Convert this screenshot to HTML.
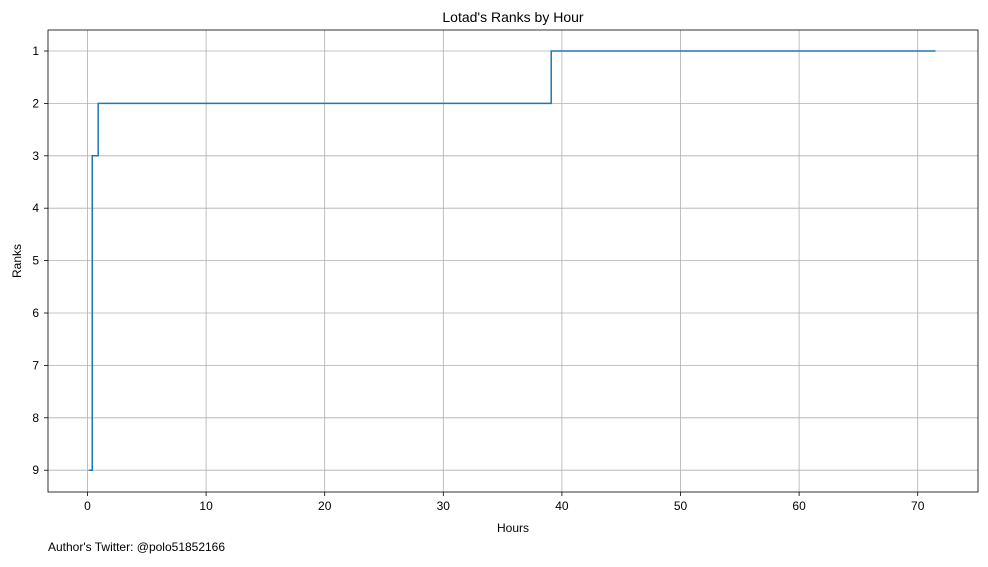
<!DOCTYPE html>
<html><head><meta charset="utf-8"><style>body{margin:0;background:#fff}svg{font-family:"Liberation Sans","DejaVu Sans",sans-serif}</style></head>
<body>
<svg id="c" width="988" height="562">
<rect x="0" y="0" width="988" height="562" fill="#fff"/>
</svg>
<script>
const hours=[0.1,0.4,0.9,39.1,71.5];
const ranks=[9,3,2,1,1];
const xTicks=[0,10,20,30,40,50,60,70];
const yTicks=[1,2,3,4,5,6,7,8,9];
const L=48,R=978,T=30,B=492;
const xs=h=>87.5+h*11.86;
const ys=r=>51+(r-1)*52.4;
const svg=document.getElementById('c');
const NS='http://www.w3.org/2000/svg';
function mk(t,a,txt){const e=document.createElementNS(NS,t);for(const k in a)e.setAttribute(k,a[k]);if(txt!==undefined)e.textContent=txt;svg.appendChild(e);return e;}
xTicks.forEach(v=>{
const g=mk('line',{x1:xs(v),x2:xs(v),y1:T,y2:B,stroke:'#b0b0b0','stroke-width':0.8});


mk('line',{x1:xs(v),x2:xs(v),y1:B,y2:B+4,stroke:'#000','stroke-width':0.8});
const t=mk('text',{x:xs(v),y:B+18,'text-anchor':'middle','font-size':12},v);


});
yTicks.forEach(v=>{
const g=mk('line',{x1:L,x2:R,y1:ys(v),y2:ys(v),stroke:'#b0b0b0','stroke-width':0.8});


mk('line',{x1:L-4,x2:L,y1:ys(v),y2:ys(v),stroke:'#000','stroke-width':0.8});
const t=mk('text',{x:L-9,y:ys(v)+4,'text-anchor':'end','font-size':12},v);


});
let d='M'+xs(hours[0])+','+ys(ranks[0]);
for(let i=1;i<hours.length;i++){d+=' H'+xs(hours[i])+' V'+ys(ranks[i]);}
const p=mk('path',{d:d,fill:'none',stroke:'#1f77b4','stroke-width':1.5});


const f=mk('rect',{x:L,y:T,width:R-L,height:B-T,fill:'none',stroke:'#000','stroke-width':0.8});


const ti=mk('text',{x:(L+R)/2,y:22,'text-anchor':'middle','font-size':14},"Lotad's Ranks by Hour");


const xl=mk('text',{x:(L+R)/2,y:532,'text-anchor':'middle','font-size':12},'Hours');


const yl=mk('text',{x:21,y:261,'text-anchor':'middle','font-size':12,transform:'rotate(-90 21 261)'},'Ranks');


const au=mk('text',{x:48,y:551,'font-size':12},"Author's Twitter: @polo51852166");


</script>
</body></html>
